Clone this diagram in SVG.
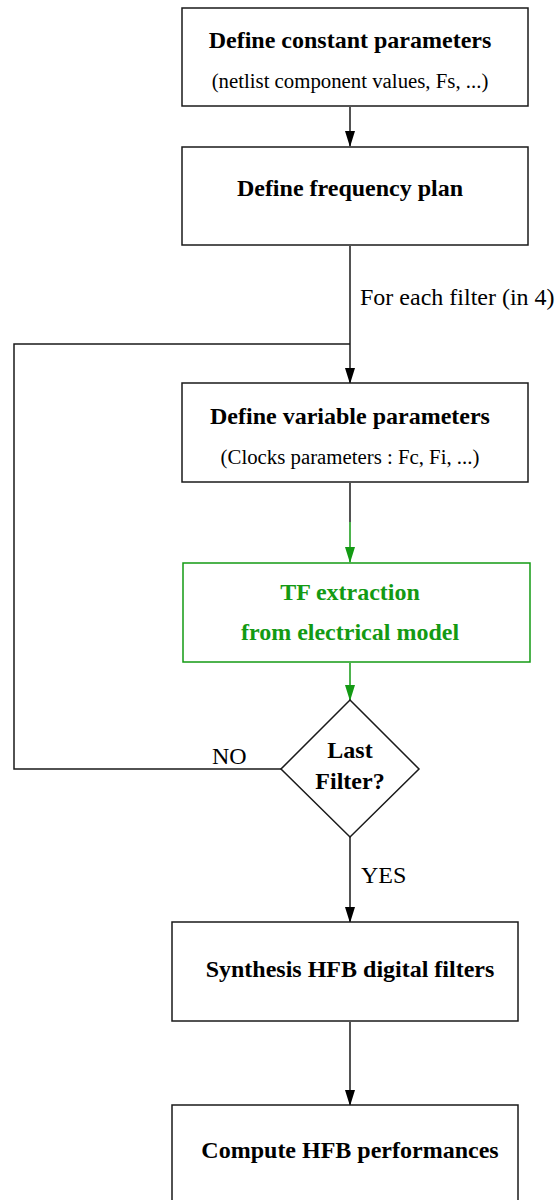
<svg xmlns="http://www.w3.org/2000/svg" width="556" height="1200" viewBox="0 0 556 1200">
<defs>
<style>
.box{fill:#fff;stroke:#1a1a1a;stroke-width:1.5}
.gbox{fill:#fff;stroke:#139a13;stroke-width:1.5}
.t{font-family:"Liberation Serif","Times New Roman",serif;font-weight:bold;font-size:24px;fill:#000;text-anchor:middle}
.s{font-family:"Liberation Serif","Times New Roman",serif;font-size:20.8px;fill:#000;text-anchor:middle}
.g{font-family:"Liberation Serif","Times New Roman",serif;font-weight:bold;font-size:24px;fill:#139a13;text-anchor:middle}
.l{font-family:"Liberation Serif","Times New Roman",serif;font-size:24px;fill:#000}
.c{fill:none;stroke:#1a1a1a;stroke-width:1.5}
.cg{fill:none;stroke:#139a13;stroke-width:1.5}
</style>
<marker id="ah" markerWidth="16" markerHeight="10" refX="15" refY="5" orient="auto" markerUnits="userSpaceOnUse" viewBox="0 0 16 10">
<path d="M0,0 L16,5 L0,10 z" fill="#000"/>
</marker>
<marker id="ahg" markerWidth="16" markerHeight="10" refX="15" refY="5" orient="auto" markerUnits="userSpaceOnUse" viewBox="0 0 16 10">
<path d="M0,0 L16,5 L0,10 z" fill="#139a13"/>
</marker>
</defs>
<rect width="556" height="1200" fill="#fff"/>
<g id="connectors">
<path class="c" d="M350,107 V146" marker-end="url(#ah)"/>
<path class="c" d="M350,246 V383" marker-end="url(#ah)"/>
<path class="c" d="M350,344 H14 V769 H281"/>
<path class="c" d="M350,483 V522"/>
<path class="cg" d="M350,522 V562" marker-end="url(#ahg)"/>
<path class="cg" d="M350,663 V700" marker-end="url(#ahg)"/>
<path class="c" d="M350,837 V922" marker-end="url(#ah)"/>
<path class="c" d="M350,1022 V1105" marker-end="url(#ah)"/>
<text class="l" x="360" y="305">For each filter (in 4)</text>
<text class="l" x="212" y="764">NO</text>
<text class="l" x="361" y="883">YES</text>
</g>
<g id="n1">
<rect class="box" x="182" y="8" width="346" height="98"/>
<text class="t" x="350" y="48">Define constant parameters</text>
<text class="s" x="350" y="88">(netlist component values, Fs, ...)</text>
</g>
<g id="n2">
<rect class="box" x="182" y="147" width="346" height="98"/>
<text class="t" x="350" y="196">Define frequency plan</text>
</g>
<g id="n3">
<rect class="box" x="182" y="383" width="346" height="99"/>
<text class="t" x="350" y="424">Define variable parameters</text>
<text class="s" x="350" y="464">(Clocks parameters : Fc, Fi, ...)</text>
</g>
<g id="n4">
<rect class="gbox" x="183" y="563" width="347" height="99"/>
<text class="g" x="350" y="600">TF extraction</text>
<text class="g" x="350" y="640">from electrical model</text>
</g>
<g id="n5">
<polygon class="box" points="350,700 419,769 350,837 281,769"/>
<text class="t" x="350" y="758">Last</text>
<text class="t" x="350" y="789">Filter?</text>
</g>
<g id="n6">
<rect class="box" x="172" y="922" width="346" height="99"/>
<text class="t" x="350" y="977">Synthesis HFB digital filters</text>
</g>
<g id="n7">
<rect class="box" x="172" y="1105" width="346" height="110"/>
<text class="t" x="350" y="1158">Compute HFB performances</text>
</g>
</svg>
